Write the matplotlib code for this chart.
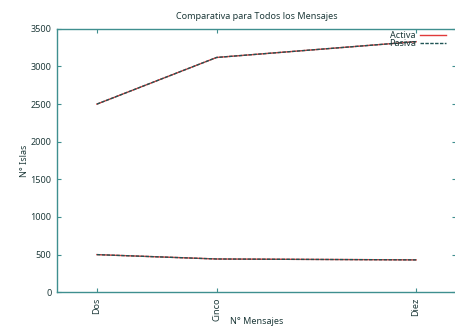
import matplotlib
matplotlib.use('Agg')
import matplotlib.pyplot as plt

plt.rcParams['font.family'] = ['Noto Sans', 'DejaVu Sans']

mensajes = [2, 5, 10]
etiquetas = ["Dos", "Cinco", "Diez"]

# islas por numero de mensajes, dos curvas por modo
activa_alta = [2500, 3120, 3330]
activa_baja = [500, 442, 430]
pasiva_alta = [2500, 3120, 3330]
pasiva_baja = [500, 442, 430]

eje = '#3f8f8f'
texto = '#1e3a3a'

fig = plt.figure(figsize=(4.56, 3.28), dpi=100)
ax = fig.add_axes([0.125, 0.109, 0.875, 0.803])

ax.plot(mensajes, activa_alta, color='#e03a3a', lw=1.0, label='Activa')
ax.plot(mensajes, activa_baja, color='#e03a3a', lw=1.0)
ax.plot(mensajes, pasiva_alta, color='#1f5555', lw=1.0, ls=(0, (2.5, 1)), label='Pasiva')
ax.plot(mensajes, pasiva_baja, color='#1f5555', lw=1.0, ls=(0, (2.5, 1)))

ax.set_xlim(1, 11)
ax.set_ylim(0, 3500)
ax.set_xticks(mensajes)
ax.set_xticklabels(etiquetas, rotation=90)
ax.set_yticks(range(0, 3501, 500))

ax.tick_params(direction='in', top=True, right=True, length=3, width=0.8,
               color=eje, labelsize=6.5, labelcolor=texto, pad=4)
for s in ax.spines.values():
    s.set_color(eje)
    s.set_linewidth(1.0)

ax.set_title("Comparativa para Todos los Mensajes", fontsize=6.5, color=texto, pad=7)
ax.set_xlabel("N° Mensajes", fontsize=6.5, color=texto, labelpad=-3)
ax.set_ylabel("N° Islas", fontsize=6.5, color=texto, labelpad=1)

ax.legend(loc='upper right', bbox_to_anchor=(0.985, 1.01), frameon=False,
          fontsize=6.5, markerfirst=False, handlelength=2.8, handletextpad=0.5,
          labelspacing=-0.1, borderaxespad=0.1, labelcolor=texto)

fig.savefig('out.png', dpi=100)
